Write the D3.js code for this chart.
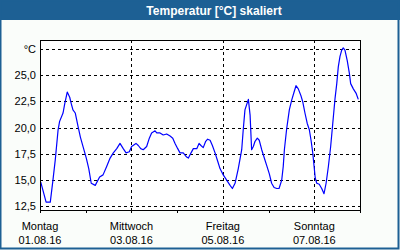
<!DOCTYPE html>
<html>
<head>
    <meta charset="utf-8">
    <title>Temperatur skaliert</title>
    <script src="https://d3js.org/d3.v7.min.js"></script>
    <style>
        body { margin: 0; background: #fafdfa; }
        svg text { font-family: "Liberation Sans", Arial, sans-serif; }
        .grid line { stroke: #000; stroke-dasharray: 3,3; shape-rendering: crispEdges; }
    </style>
</head>
<body>
    <div id="chart"></div>

    <script>
        // Messzeitpunkte (Stunden ab 01.08.16 00:00) und Temperaturen
        const hours = [0.4, 3.2, 5.4, 6.8, 8.0, 9.5, 10.3, 12.1, 13.0, 14.3, 15.6, 16.4, 17.3, 18.5, 20.0, 21.2, 22.6, 24.3, 25.6, 26.9,
            29.0, 31.3, 33.1, 35.0, 36.8, 38.5, 40.3, 42.0, 43.7, 45.2, 46.9, 48.1, 50.4, 51.6, 52.9, 54.2, 56.0, 57.4, 58.6, 60.4,
            61.3, 63.0, 64.7, 66.5, 68.3, 69.7, 70.9, 72.3, 73.5, 75.2, 77.0, 77.9, 79.3, 80.5, 82.3, 83.5, 84.5, 85.7, 87.0, 88.0,
            89.3, 90.5, 91.9, 93.3, 94.5, 96.2, 98.0, 99.8, 101.0, 102.4, 104.1, 105.9, 106.7, 107.6, 109.4, 110.3, 111.1, 112.0, 112.9, 114.1,
            115.1, 116.4, 117.6, 119.0, 120.4, 121.6, 122.9, 124.3, 125.5, 126.9, 127.7, 128.3, 129.5, 130.9, 132.1, 133.4, 134.4, 135.6, 136.9, 137.9,
            139.1, 140.3, 141.4, 142.3, 143.2, 143.9, 144.5, 145.3, 146.6, 147.9, 149.1, 150.2, 151.4, 152.6, 153.7, 154.9, 155.8, 156.6, 157.5, 158.4,
            159.2, 160.1, 161.3, 162.4, 163.1, 164.5, 165.9, 167.1];
        const temps = [14.8, 12.9, 12.9, 15.0, 16.9, 19.8, 20.6, 21.4, 22.3, 23.4, 22.9, 22.3, 21.7, 21.4, 20.1, 19.1, 18.2, 17.1, 16.1, 14.7,
            14.5, 15.3, 15.5, 16.3, 17.1, 17.6, 18.0, 18.5, 18.0, 17.6, 17.7, 18.2, 18.5, 18.3, 18.0, 17.9, 18.2, 19.0, 19.5, 19.7,
            19.5, 19.5, 19.3, 19.4, 19.2, 19.0, 18.5, 18.0, 17.6, 17.6, 17.2, 17.1, 17.6, 18.0, 18.0, 18.5, 18.3, 18.1, 18.7, 18.9,
            18.8, 18.3, 17.6, 16.8, 16.1, 15.5, 15.0, 14.5, 14.2, 14.7, 16.1, 17.9, 19.8, 21.7, 22.7, 21.2, 17.9, 18.2, 18.7, 19.0,
            18.8, 17.9, 17.2, 16.4, 15.6, 14.7, 14.3, 14.2, 14.2, 15.0, 16.3, 17.9, 19.9, 21.7, 22.6, 23.4, 24.0, 23.7, 23.1, 22.5,
            21.4, 20.4, 19.8, 18.8, 17.6, 16.3, 15.2, 14.7, 14.6, 14.2, 13.7, 14.7, 16.3, 18.2, 20.4, 22.8, 24.2, 25.8, 26.8, 27.4,
            27.6, 27.4, 26.4, 25.2, 24.2, 23.7, 23.3, 22.7];

        // Achsenbeschriftungen
        const yTicks = [12.5, 15.0, 17.5, 20.0, 22.5, 25.0, 27.5];
        const dayTicks = [1, 3, 5, 7];
        const dayNames = ["Montag", "Mittwoch", "Freitag", "Sonntag"];
        const dateNames = ["01.08.16", "03.08.16", "05.08.16", "07.08.16"];
        const title = "Temperatur [°C] skaliert";

        const width = 400;
        const height = 250;
        const plot = { left: 40, top: 40, right: 360, bottom: 210 };

        const svg = d3.select("#chart")
            .append("svg")
            .attr("width", width)
            .attr("height", height);

        // Rahmen und Titelleiste
        svg.append("rect")
            .attr("x", 0).attr("y", 0)
            .attr("width", width).attr("height", height)
            .attr("fill", "#fafdfa");
        svg.append("rect")
            .attr("x", 0).attr("y", 0)
            .attr("width", width).attr("height", 20)
            .attr("fill", "#1d6094");
        svg.append("rect")
            .attr("x", 0.5).attr("y", 0.5)
            .attr("width", width - 2).attr("height", height - 2)
            .attr("fill", "none")
            .attr("stroke", "#1d6094")
            .attr("stroke-width", 2);
        svg.append("text")
            .attr("x", 214)
            .attr("y", 15)
            .attr("text-anchor", "middle")
            .attr("fill", "#fff")
            .attr("font-size", "12px")
            .attr("font-weight", "bold")
            .text(title);

        // Skalen
        const start = new Date(2016, 7, 1);
        const x = d3.scaleTime()
            .domain([start, d3.timeDay.offset(start, 7)])
            .range([plot.left, plot.right]);
        const y = d3.scaleLinear()
            .domain([12.15, 28.36])
            .range([plot.bottom, plot.top]);

        svg.append("rect")
            .attr("x", plot.left).attr("y", plot.top)
            .attr("width", plot.right - plot.left)
            .attr("height", plot.bottom - plot.top)
            .attr("fill", "#fff");

        // Gitterlinien
        const grid = svg.append("g").attr("class", "grid");
        grid.selectAll("line.h")
            .data(yTicks)
            .enter().append("line")
            .attr("class", "h")
            .attr("x1", plot.left).attr("x2", plot.right)
            .attr("y1", d => Math.round(y(d)) + 0.5)
            .attr("y2", d => Math.round(y(d)) + 0.5);
        grid.selectAll("line.v")
            .data(dayTicks.slice(1))
            .enter().append("line")
            .attr("class", "v")
            .attr("y1", plot.top).attr("y2", plot.bottom)
            .attr("x1", d => Math.round(x(new Date(2016, 7, d))) + 0.5)
            .attr("x2", d => Math.round(x(new Date(2016, 7, d))) + 0.5);

        // Tagesstriche unten
        const days = d3.timeDay.range(start, d3.timeDay.offset(start, 8));
        svg.append("g")
            .selectAll("line")
            .data(days)
            .enter().append("line")
            .attr("x1", d => Math.round(x(d)) + 0.5)
            .attr("x2", d => Math.round(x(d)) + 0.5)
            .attr("y1", plot.bottom)
            .attr("y2", plot.bottom + 3)
            .attr("stroke", "#000")
            .attr("shape-rendering", "crispEdges");

        // Temperaturkurve
        const points = hours.map((h, i) => ({ t: new Date(start.getTime() + h * 3600000), v: temps[i] }));
        const line = d3.line()
            .x(d => x(d.t))
            .y(d => y(d.v));
        svg.append("path")
            .datum(points)
            .attr("d", line)
            .attr("fill", "none")
            .attr("stroke", "#0000ff")
            .attr("stroke-width", 1.2)
            .attr("stroke-linejoin", "round");

        // Plotrahmen
        svg.append("rect")
            .attr("x", plot.left + 0.5).attr("y", plot.top + 0.5)
            .attr("width", plot.right - plot.left)
            .attr("height", plot.bottom - plot.top)
            .attr("fill", "none")
            .attr("stroke", "#000")
            .attr("shape-rendering", "crispEdges");

        // Y-Beschriftung
        svg.append("g")
            .selectAll("text")
            .data(yTicks)
            .enter().append("text")
            .attr("x", 36)
            .attr("y", d => y(d) + 4)
            .attr("text-anchor", "end")
            .attr("font-size", "11px")
            .attr("fill", "#000")
            .text((d, i) => i === yTicks.length - 1 ? "°C" : d3.format(".1f")(d).replace(".", ","));

        // X-Beschriftung
        const xl = svg.append("g")
            .selectAll("g")
            .data(dayTicks)
            .enter().append("g")
            .attr("transform", d => `translate(${x(new Date(2016, 7, d))},0)`);
        xl.append("text")
            .attr("y", 229.5)
            .attr("text-anchor", "middle")
            .attr("font-size", "11px")
            .text((d, i) => dayNames[i]);
        xl.append("text")
            .attr("y", 243.5)
            .attr("text-anchor", "middle")
            .attr("font-size", "11px")
            .text((d, i) => dateNames[i]);
    </script>
</body>
</html>
